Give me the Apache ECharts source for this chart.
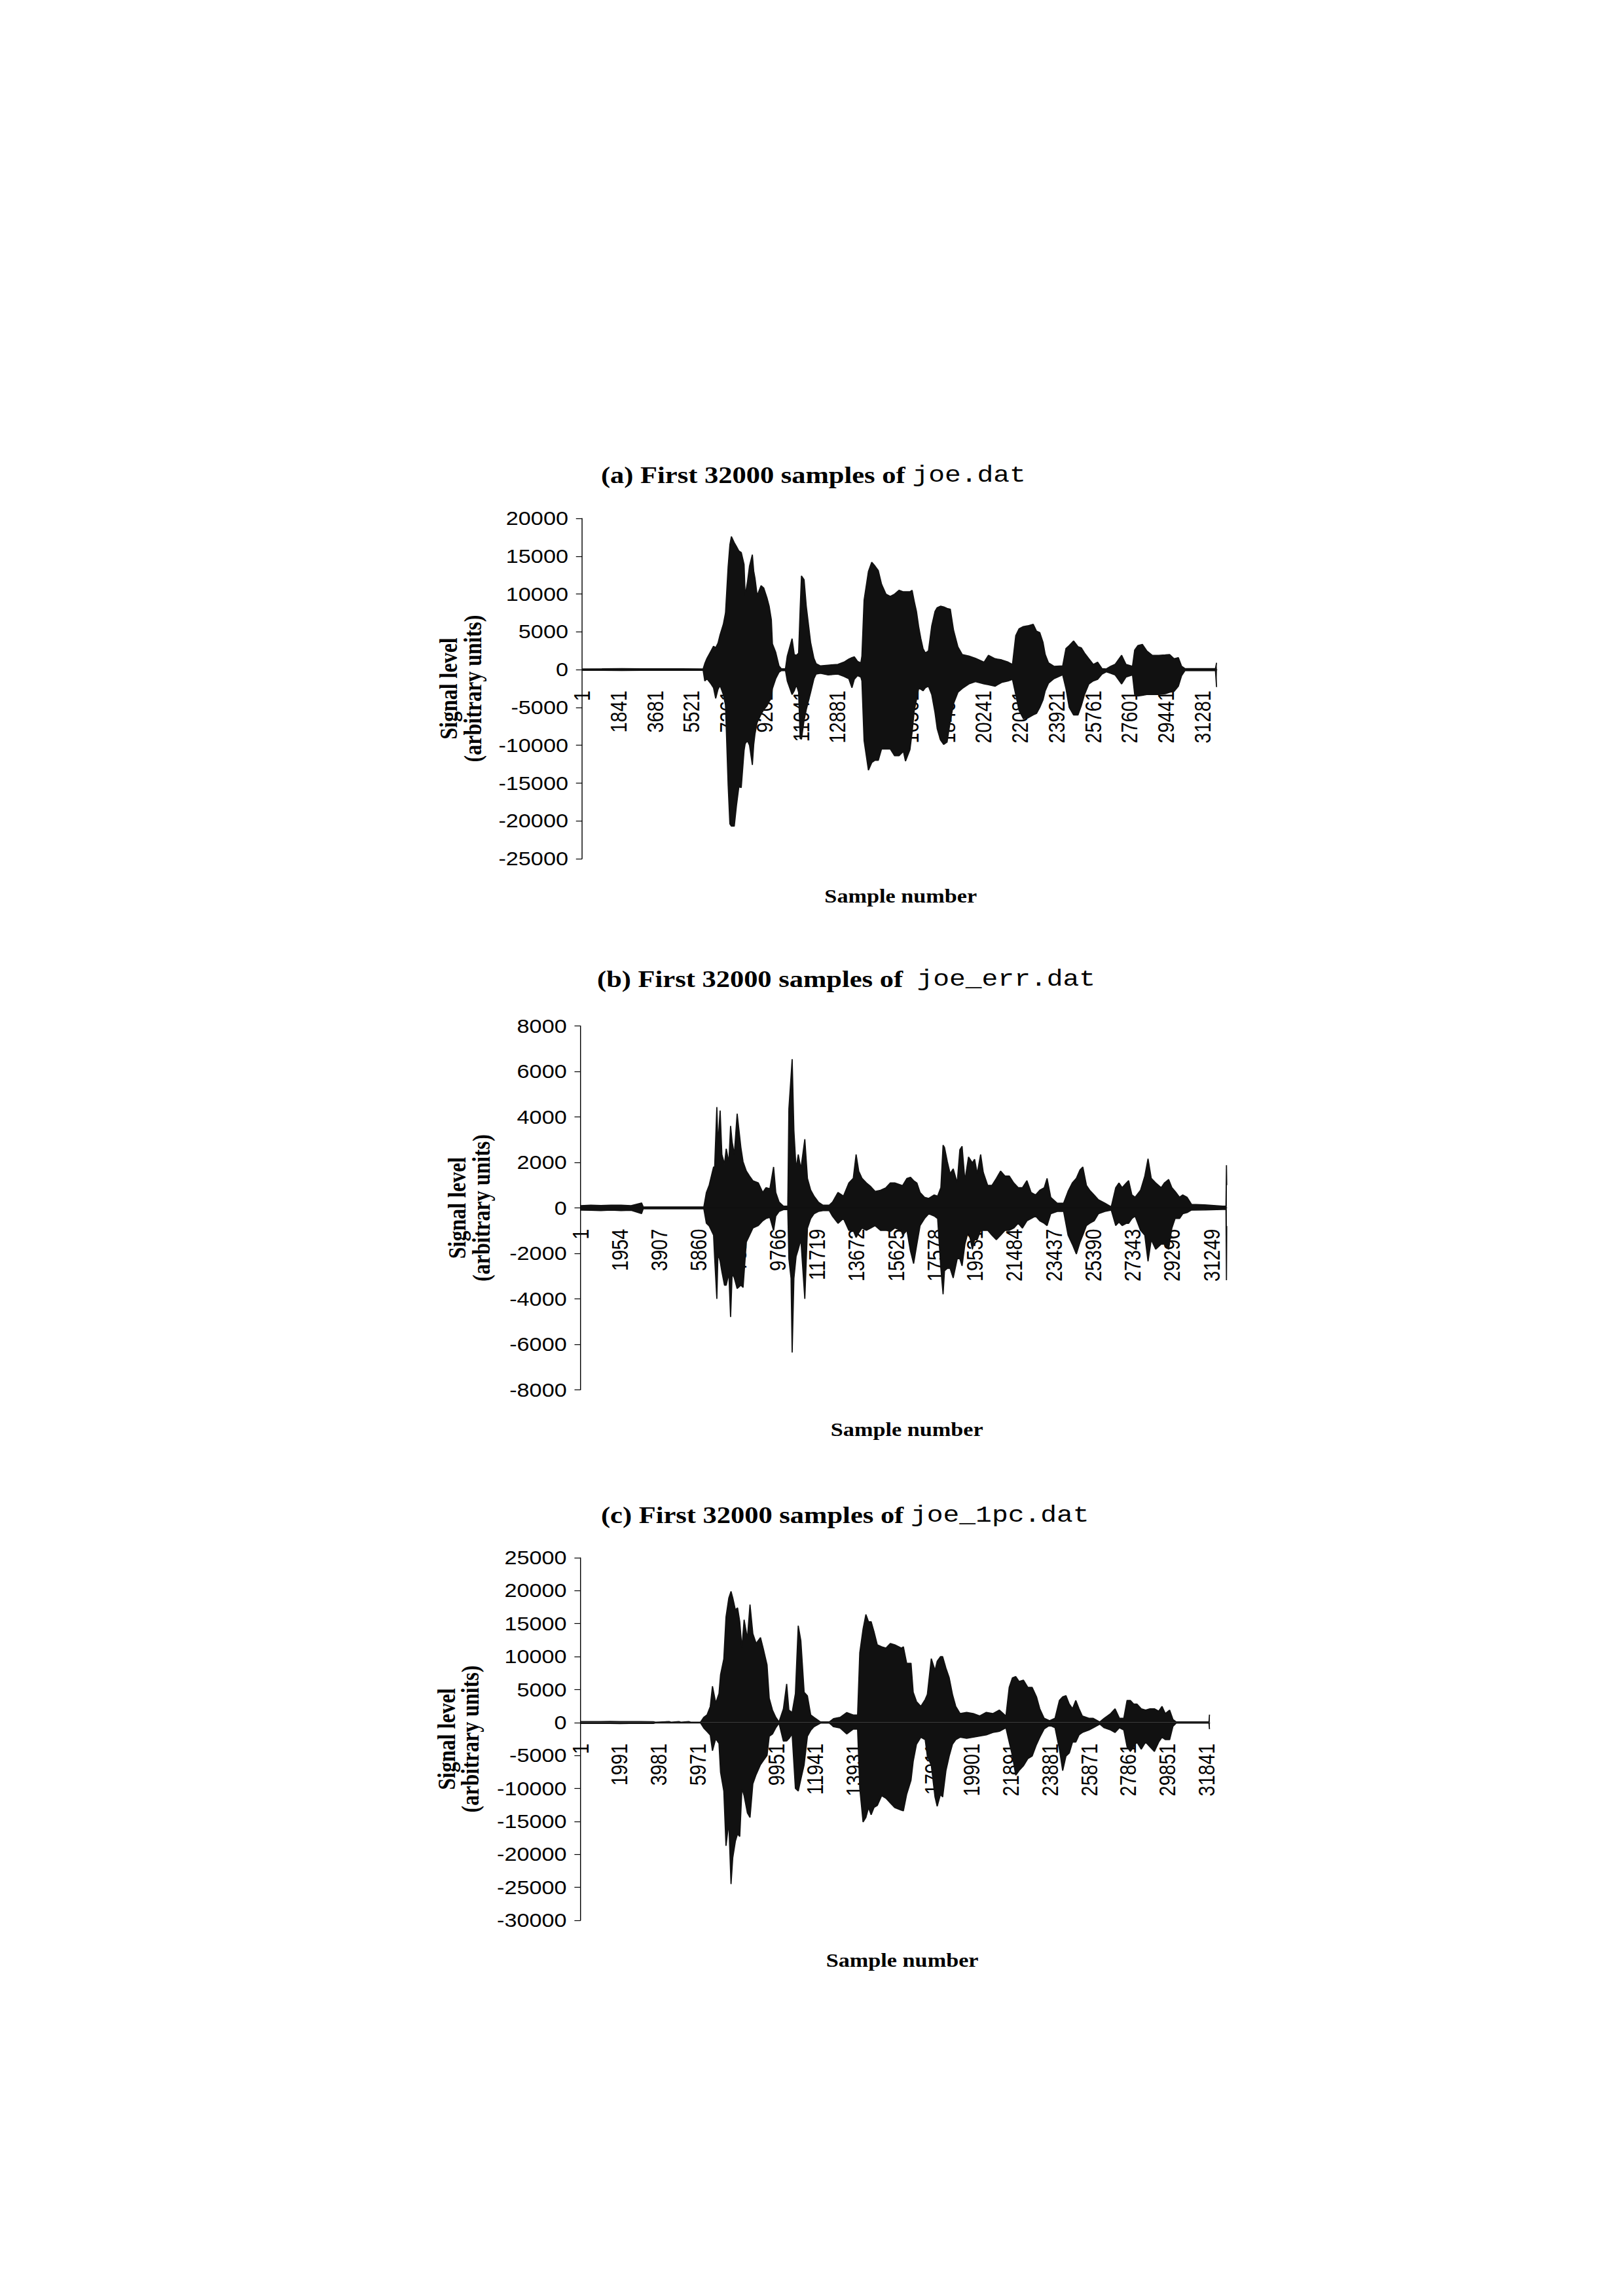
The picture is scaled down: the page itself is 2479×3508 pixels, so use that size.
<!DOCTYPE html>
<html>
<head>
<meta charset="utf-8">
<script src="https://cdn.jsdelivr.net/npm/echarts@6.0.0/dist/echarts.min.js"></script>
<style>
html,body{margin:0;padding:0;background:#fff;width:2479px;height:3508px;overflow:hidden}
#chart{width:2101px;height:3508px;transform:scaleX(1.1799);transform-origin:0 0}
</style>
</head>
<body>
<div id="chart"></div>
<script>
// ---------- titles ----------
const titleSerif = ['(a) First 32000 samples of ', '(b) First 32000 samples of \u00a0', '(c) First 32000 samples of '];
const titleMono = ['joe.dat', 'joe_err.dat', 'joe_1pc.dat'];
const xAxisTitle = 'Sample number';
const yAxisTitle = 'Signal level\n(arbitrary units)';

// ---------- tick labels ----------
const xTicksA = [1,1841,3681,5521,7361,9201,11041,12881,14721,16561,18401,20241,22081,23921,25761,27601,29441,31281];
const xTicksB = [1,1954,3907,5860,7813,9766,11719,13672,15625,17578,19531,21484,23437,25390,27343,29296,31249];
const xTicksC = [1,1991,3981,5971,7961,9951,11941,13931,15921,17911,19901,21891,23881,25871,27861,29851,31841];
const yTicksA = [-25000,-20000,-15000,-10000,-5000,0,5000,10000,15000,20000];
const yTicksB = [-8000,-6000,-4000,-2000,0,2000,4000,6000,8000];
const yTicksC = [-30000,-25000,-20000,-15000,-10000,-5000,0,5000,10000,15000,20000,25000];

// ---------- (a) joe.dat : sample number, positive peak, negative peak ----------
const samplesA = [
1,1000,2000,3000,4000,5000,6100,6183,6293,6500,
6623,6733,6850,6953,7118,7228,7360,7448,7525,7668,
7778,7900,8020,8163,8218,8330,8438,8581,8650,8713,
8823,9021,9153,9318,9428,9538,9593,9758,9923,10033,
10250,10341,10583,10693,10803,10913,10990,11056,11188,11298,
11518,11683,11793,12013,12400,12893,13200,13443,13600,13718,
13883,14050,14103,14213,14433,14598,14763,14928,15093,15313,
15533,15753,15973,16193,16300,16523,16633,16743,16853,16963,
17073,17183,17303,17458,17623,17788,17898,18063,18228,18393,
18558,18723,18943,19163,19493,19823,20263,20483,20813,21143,
21473,21693,21858,22023,22243,22463,22738,22903,23068,23233,
23343,23508,23783,24223,24388,24553,24773,24993,25158,25323,
25543,25763,25983,26203,26423,26643,26863,27193,27413,27743,
27853,28018,28238,28458,28733,29063,29393,29613,29833,30053,
30218,30383,31000,31923,31980,32000];
const upperA = [
100,120,150,110,120,110,100,800,1500,2500,
3100,2900,3500,4600,6000,7500,13600,16500,17600,16800,
16300,15700,15500,13900,9800,11500,13700,15200,13000,12100,
9800,11100,10800,9500,8400,6600,3400,2300,500,150,
120,1800,4100,2000,1900,2200,8000,12400,11900,8400,
3600,1500,800,500,600,700,1000,1400,1600,1700,
1100,900,1800,9200,13000,14200,13700,13100,11300,10000,
9700,10000,10500,10300,10300,10300,10500,9000,7700,5700,
4100,2800,2200,2500,5800,7700,8200,8400,8300,8100,
8000,5200,3000,2000,1800,1500,1000,1900,1450,1300,
1000,700,4500,5400,5700,5800,6000,5100,4900,3600,
2000,900,450,500,2800,3200,3800,3050,2900,2200,
1450,700,1000,150,100,450,700,1900,700,450,
2600,3200,3350,2500,1900,1900,1950,2000,1450,1600,
450,150,130,150,900,900];
const lowerA = [
-100,-100,-120,-100,-100,-100,-100,-1500,-1200,-1900,
-2400,-3800,-2600,-2100,-3300,-4700,-15200,-20400,-20700,-20700,
-18000,-15500,-15600,-10700,-9800,-9400,-10000,-12600,-9900,-8500,
-7000,-5900,-5300,-4800,-4200,-3800,-2500,-1200,-350,-150,
-120,-1500,-3300,-2800,-2000,-3000,-9100,-9200,-6700,-5300,
-3000,-1200,-600,-500,-700,-600,-900,-1200,-2400,-1300,
-800,-1000,-1500,-9400,-13300,-12300,-12000,-12000,-10500,-10500,
-10500,-11400,-11400,-10800,-12100,-10600,-8300,-5400,-4000,-2500,
-2600,-2800,-2400,-2200,-3300,-5700,-7800,-9300,-9900,-9600,
-6800,-4500,-3000,-2500,-1900,-1600,-1900,-2000,-2200,-1700,
-1500,-1300,-3300,-5400,-6500,-6400,-6000,-5800,-5000,-4000,
-2800,-1800,-1200,-700,-2500,-5000,-6000,-6000,-4800,-3300,
-1900,-1500,-1300,-600,-300,-500,-700,-1900,-1000,-700,
-3300,-3500,-3400,-3300,-3300,-3300,-3200,-3000,-2900,-2200,
-800,-150,-130,-150,-2300,-2300];

// ---------- (b) joe_err.dat ----------
const samplesB = [
1,500,1000,1500,2000,2500,3016,3100,4000,5000,
6100,6227,6367,6583,6637,6745,6800,6908,6994,7124,
7210,7340,7426,7502,7610,7751,7935,8043,8205,8367,
8529,8799,9016,9178,9372,9556,9664,9826,10043,10259,
10313,10421,10475,10561,10669,10777,10907,11102,11232,11394,
11556,11772,12000,12313,12475,12745,13015,13285,13502,13642,
13772,13934,14151,14367,14583,14853,15123,15339,15556,15880,
15950,16160,16330,16490,16650,16810,17030,17240,17510,17680,
17840,17950,18020,18160,18300,18450,18650,18780,18890,19030,
19210,19400,19510,19640,19810,19940,20160,20370,20590,20800,
21020,21230,21450,21670,21880,22100,22310,22530,22740,22960,
23100,23280,23600,23920,24140,24350,24550,24730,24870,25050,
25210,25430,25640,25960,26280,26500,26660,26820,27030,27140,
27300,27460,27730,27940,28100,28260,28480,28750,28910,29120,
29280,29440,29660,29820,30030,30250,30900,31800,31960,31985,
32000];
const upperB = [
100,120,110,120,120,100,220,40,40,40,
40,680,1000,1800,1800,4430,2760,4280,2350,1930,
2600,2000,3600,2900,2350,4140,2660,2030,1620,1400,
1200,1100,680,890,840,1800,680,260,80,80,
4350,5800,6540,3400,1720,2350,1720,3020,1300,780,
520,260,120,120,260,680,520,1100,1300,2350,
1620,1300,1100,940,730,780,890,1100,1100,1000,
990,1300,1350,1200,1100,680,470,420,570,520,
890,2760,2660,2030,1510,1720,1100,2560,2710,1200,
2240,1980,2140,1510,2350,1560,990,990,1300,1620,
1400,1400,1100,890,890,1200,680,570,780,890,
1300,470,210,210,730,1100,1300,1670,1800,990,
780,570,360,210,50,890,1100,890,1100,1200,
570,470,780,1400,2160,1300,1100,890,1100,1250,
890,730,470,570,470,160,140,80,80,1880,
1000];
const lowerB = [
-100,-110,-120,-100,-120,-110,-250,-40,-40,-40,
-40,-680,-800,-1200,-2200,-4000,-2000,-2350,-2800,-3400,
-3400,-2870,-4800,-2900,-3080,-3550,-3400,-3500,-1500,-1200,
-890,-780,-570,-470,-420,-1000,-360,-160,-80,-80,
-2240,-3100,-6360,-3100,-2140,-1820,-1400,-4000,-890,-470,
-260,-160,-120,-120,-370,-680,-470,-990,-990,-1300,
-1100,-890,-990,-890,-780,-990,-990,-1040,-890,-990,
-1200,-990,-1880,-2450,-1600,-780,-470,-260,-360,-470,
-2660,-3800,-2770,-2660,-2660,-3080,-2240,-2240,-2550,-1600,
-990,-1820,-1400,-1400,-990,-990,-990,-1200,-1400,-1200,
-990,-990,-890,-680,-890,-570,-470,-360,-570,-680,
-780,-260,-160,-160,-1200,-1600,-2030,-1510,-1200,-780,
-680,-570,-260,-160,-100,-780,-630,-780,-680,-680,
-470,-360,-990,-1200,-2350,-1400,-1820,-1600,-1600,-1820,
-890,-470,-470,-260,-210,-100,-90,-70,-70,-3180,
-800];

// ---------- (c) joe_1pc.dat ----------
const samplesC = [
1,500,1000,1500,2000,2500,3000,3700,3800,4500,
4600,5000,5100,5500,5600,6100,6263,6430,6596,6708,
6874,7040,7118,7285,7396,7540,7651,7740,7873,7984,
8095,8206,8317,8484,8617,8761,8928,9150,9316,9483,
9594,9760,9927,10093,10315,10482,10593,10759,10926,11070,
11203,11370,11536,11703,11869,12200,12650,12868,13201,13534,
13867,14089,14200,14367,14511,14644,14777,14922,15088,15310,
15532,15754,15976,16309,16416,16583,16805,16916,17082,17304,
17526,17637,17837,18026,18137,18303,18414,18581,18747,18914,
19080,19302,19635,19968,20301,20634,20967,21300,21633,21800,
21966,22133,22299,22521,22743,22965,23187,23354,23576,23853,
24131,24353,24519,24686,24852,25019,25185,25352,25518,25851,
26073,26406,26628,26961,27183,27405,27627,27794,27960,28127,
28293,28515,28737,28959,29181,29403,29570,29736,29958,30125,
30291,31000,31960,31985,32000];
const upperC = [
150,160,150,170,150,160,150,140,60,150,
60,150,60,150,60,60,800,1160,2420,5500,
2970,4400,7230,9660,16000,18900,19900,18900,17100,17400,
15300,11300,15600,12700,17900,13500,12000,12900,10900,8750,
3700,1900,800,100,2060,5860,1900,1520,4400,14700,
12400,4600,4050,1160,800,100,100,600,800,1520,
1160,1160,10600,14200,16400,15300,15300,13800,11800,11500,
11300,12000,11800,11300,11500,9000,9000,4600,3200,2460,
3500,4270,9700,7900,9300,10000,10000,8250,6800,4270,
2460,1370,1550,1370,1000,1550,1370,1900,1000,5350,
6800,6980,6250,6440,5350,5350,3900,2100,650,290,
650,3360,3900,4090,2820,2100,3360,2100,1000,650,
650,100,650,1370,2100,650,650,3360,3360,2820,
2820,2100,1900,2100,2100,1740,2460,1370,1900,470,
100,100,100,1200,1200];
const lowerC = [
-150,-140,-150,-150,-160,-150,-150,-140,-60,-60,
-60,-60,-60,-60,-60,-60,-830,-1370,-1900,-4270,
-2460,-3180,-7520,-10400,-18700,-15100,-24500,-20500,-18000,-16900,
-17300,-10000,-11100,-13700,-14400,-9300,-7900,-6400,-5700,-5000,
-2100,-1740,-800,-100,-2820,-2800,-2460,-1740,-10000,-10400,
-8600,-6400,-2100,-1200,-650,-100,-100,-650,-830,-1740,
-1000,-1000,-10000,-15100,-14400,-12900,-14000,-12900,-12600,-11100,
-11500,-12200,-12900,-13300,-13400,-10900,-8750,-5900,-3300,-2240,
-2600,-5140,-6500,-11300,-12700,-10900,-11300,-7300,-5100,-3300,
-2600,-2240,-2400,-2240,-2060,-1880,-1520,-1340,-800,-2970,
-5100,-8000,-7300,-6580,-5500,-5100,-3330,-2240,-980,-430,
-800,-4050,-7300,-5100,-4630,-2970,-2970,-1880,-1520,-1150,
-800,-250,-800,-1150,-1520,-800,-1150,-3690,-4400,-3690,
-2970,-4050,-2970,-3690,-4400,-2970,-2240,-2600,-2600,-600,
-100,-100,-100,-1000,-1000];

// ---------- layout (chart space; page is stretched horizontally by 1.1799) ----------
const layout = [
  {left: 753.6, top: 792, width: 821.8, height: 520, titleLeft: 778, titleTop: 705, nameX: 1166, nameY: 1369, yNameGap: 126},
  {left: 751.7, top: 1567.5, width: 836.4, height: 556, titleLeft: 773, titleTop: 1475, nameX: 1174, nameY: 2184, yNameGap: 113},
  {left: 751.6, top: 2380, width: 814.5, height: 554, titleLeft: 778, titleTop: 2294, nameX: 1168, nameY: 2995, yNameGap: 127}
];
const panels = [
  {xTicks: xTicksA, yTicks: yTicksA, samples: samplesA, upper: upperA, lower: lowerA},
  {xTicks: xTicksB, yTicks: yTicksB, samples: samplesB, upper: upperB, lower: lowerB},
  {xTicks: xTicksC, yTicks: yTicksC, samples: samplesC, upper: upperC, lower: lowerC}
];

const INK = '#111';
const SANS = 'Liberation Sans';
const SERIF = 'Liberation Serif';
const MONO = 'Liberation Mono';

const grids = [], xAxes = [], yAxes = [], series = [], titles = [], texts = [];
panels.forEach((p, i) => {
  const L = layout[i];
  const yMin = p.yTicks[0], yMax = p.yTicks[p.yTicks.length - 1];
  grids.push({left: L.left, top: L.top, width: L.width, height: L.height, containLabel: false, outerBoundsMode: 'none'});
  const step = p.xTicks[1] - p.xTicks[0];
  // the category axis crosses the value axis at 0 (as in the original spreadsheet chart)
  const zeroOffset = -L.height * (0 - yMin) / (yMax - yMin);
  xAxes.push({
    gridIndex: i, type: 'value', min: p.xTicks[0], max: 32000, interval: step,
    position: 'bottom', offset: zeroOffset,
    axisLine: {show: true, onZero: false, lineStyle: {color: '#000', width: 1.2}},
    axisTick: {show: false}, splitLine: {show: false},
    axisLabel: {rotate: 90, margin: 32, fontSize: 29, fontFamily: SANS, color: '#000',
      showMinLabel: true, showMaxLabel: false, hideOverlap: false,
      formatter: v => p.xTicks.indexOf(Math.round(v)) >= 0 ? String(Math.round(v)) : ''}
  });
  const yStep = p.yTicks[1] - p.yTicks[0];
  yAxes.push({
    gridIndex: i, type: 'value', min: yMin, max: yMax, interval: yStep,
    axisLine: {show: true, onZero: false, lineStyle: {color: '#000', width: 1.2}},
    axisTick: {show: true, inside: false, length: 8, lineStyle: {color: '#000', width: 1.2}},
    splitLine: {show: false},
    axisLabel: {margin: 18, fontSize: 29, fontFamily: SANS, color: '#000', formatter: v => String(v)},
    name: yAxisTitle, nameLocation: 'middle', nameRotate: 90, nameGap: L.yNameGap,
    nameTextStyle: {fontFamily: SERIF, fontWeight: 'bold', fontSize: 32, lineHeight: 31, color: '#000'}
  });
  [p.upper, p.lower].forEach(vals => {
    series.push({
      type: 'line', xAxisIndex: i, yAxisIndex: i,
      data: p.samples.map((s, k) => [s, vals[k]]),
      showSymbol: false, symbol: 'none', silent: true, animation: false,
      lineStyle: {color: INK, width: 1.5},
      areaStyle: {color: INK, opacity: 1}
    });
  });
  titles.push({
    left: L.titleLeft, top: L.titleTop, padding: 0,
    text: '{s|' + titleSerif[i] + '}{m|' + titleMono[i] + '}',
    textStyle: {rich: {
      s: {fontFamily: SERIF, fontWeight: 'bold', fontSize: 36, lineHeight: 42, color: '#000'},
      m: {fontFamily: MONO, fontWeight: 'normal', fontSize: 35, lineHeight: 42, color: '#000'}
    }}
  });
  texts.push({
    type: 'text', x: L.nameX, y: L.nameY, silent: true,
    style: {text: xAxisTitle, font: 'bold 29px "' + SERIF + '"', fill: '#000',
      textAlign: 'center', textVerticalAlign: 'middle', align: 'center', verticalAlign: 'middle'}
  });
});

const chart = echarts.init(document.getElementById('chart'), null, {renderer: 'svg'});
chart.setOption({
  backgroundColor: '#fff',
  animation: false,
  title: titles,
  grid: grids,
  xAxis: xAxes,
  yAxis: yAxes,
  series: series,
  graphic: {elements: texts}
});
</script>
</body>
</html>
